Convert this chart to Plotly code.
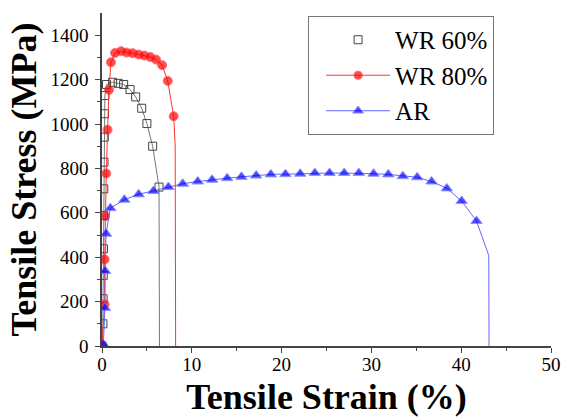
import plotly.graph_objects as go

# WR 60% (open squares) - marker points
wr60_strain = [0.0, 0.10, 0.12, 0.14, 0.16, 0.18, 0.20, 0.22, 0.25, 0.28, 0.32, 0.50, 1.18, 1.80, 2.41, 3.12, 3.75, 4.42, 5.00, 5.64, 6.35]
wr60_stress = [0, 100, 213, 318, 438, 588, 708, 828, 941, 1046, 1128, 1178, 1188, 1183, 1178, 1155, 1122, 1071, 1002, 900, 716]
# fracture drop (line only)
wr60_end_strain = [6.40]
wr60_end_stress = [0]

# WR 80% (filled circles)
wr80_strain = [0.0, 0.29, 0.30, 0.37, 0.48, 0.62, 0.78, 1.00, 1.45, 2.12, 2.74, 3.40, 4.08, 4.72, 5.38, 6.02, 6.69, 7.32, 7.98]
wr80_stress = [0, 188, 390, 585, 777, 974, 1154, 1278, 1320, 1328, 1322, 1319, 1313, 1308, 1302, 1290, 1265, 1194, 1035]
wr80_end_strain = [8.15, 8.20]
wr80_end_stress = [900, 0]

# AR (filled triangles)
ar_strain = [0.15, 0.33, 0.35, 0.45, 0.93, 2.49, 4.08, 5.72, 7.39, 8.99, 10.66, 12.26, 13.94, 15.53, 17.17, 18.80,
             20.43, 22.07, 23.70, 25.34, 26.97, 28.60, 30.24, 31.88, 33.50, 35.10, 36.70, 38.40, 40.05, 41.70]
ar_stress = [8, 171, 338, 506, 621, 659, 683, 698, 716, 731, 741, 749, 756, 762, 768, 773,
             774, 776, 779, 779, 779, 779, 776, 773, 765, 760, 741, 710, 653, 563]
ar_end_strain = [43.07, 43.10]
ar_end_stress = [408, 0]

MS = 8
SERIF = "Liberation Serif, Times New Roman, Times, serif"

fig = go.Figure()

# WR 60% line (no legend)
fig.add_trace(go.Scatter(
    x=wr60_strain + wr60_end_strain, y=wr60_stress + wr60_end_stress,
    mode="lines", line=dict(color="#777777", width=1), showlegend=False, hoverinfo="skip"))
# WR 60% markers
fig.add_trace(go.Scatter(
    x=wr60_strain, y=wr60_stress, mode="markers", name="WR 60%",
    marker=dict(symbol="square-open", size=MS, color="#444444", line=dict(width=1))))

# WR 80%
fig.add_trace(go.Scatter(
    x=wr80_strain + wr80_end_strain, y=wr80_stress + wr80_end_stress,
    mode="lines+markers", name="WR 80%",
    line=dict(color="#ff3333", width=1),
    marker=dict(symbol="circle", color="#ff0000",
                size=[MS + 1] * len(wr80_strain) + [0] * len(wr80_end_strain))))

# AR
fig.add_trace(go.Scatter(
    x=ar_strain + ar_end_strain, y=ar_stress + ar_end_stress,
    mode="lines+markers", name="AR",
    line=dict(color="#6666ff", width=1),
    marker=dict(symbol="triangle-up", color="#0000ff",
                size=[MS + 2] * len(ar_strain) + [0] * len(ar_end_strain))))

tickfont = dict(family=SERIF, size=19, color="black")
titlefont = dict(family=SERIF, size=36, color="black", weight="bold")

fig.update_layout(
    width=562, height=419,
    margin=dict(l=102, r=11, t=13, b=73, autoexpand=False),
    paper_bgcolor="white", plot_bgcolor="white",
    font=dict(family=SERIF, color="black"),
    legend=dict(
        x=0.459, y=0.991, xanchor="left", yanchor="top",
        bordercolor="#777777", borderwidth=1, bgcolor="white",
        font=dict(family=SERIF, size=25, color="black"),
        itemwidth=64, indentation=12, tracegroupgap=0,
    ),
    xaxis=dict(
        range=[0, 50], tickmode="linear", tick0=0, dtick=10, automargin=False,
        showgrid=False, zeroline=False, showline=True, linecolor="#444444", linewidth=1.5,
        ticks="outside", ticklen=5, tickwidth=1.2, tickcolor="#444444",
        minor=dict(ticks="outside", dtick=5, ticklen=3, tickcolor="#444444", showgrid=False),
        tickfont=tickfont, ticklabelstandoff=-5,
        title=dict(text="Tensile Strain (%)", font=titlefont, standoff=10),
    ),
    yaxis=dict(
        range=[0, 1500], tickmode="array", tickvals=[0, 200, 400, 600, 800, 1000, 1200, 1400],
        automargin=False,
        showgrid=False, zeroline=False, showline=True, linecolor="#444444", linewidth=1.5,
        ticks="outside", ticklen=5, tickwidth=1.2, tickcolor="#444444",
        minor=dict(ticks="outside", tickvals=[100, 300, 500, 700, 900, 1100, 1300], ticklen=3,
                   tickcolor="#444444", showgrid=False),
        tickfont=tickfont, ticklabelstandoff=3,
        title=dict(text="Tensile Stress (MPa)", font=titlefont, standoff=3),
    ),
)

fig.write_html("out.html")
